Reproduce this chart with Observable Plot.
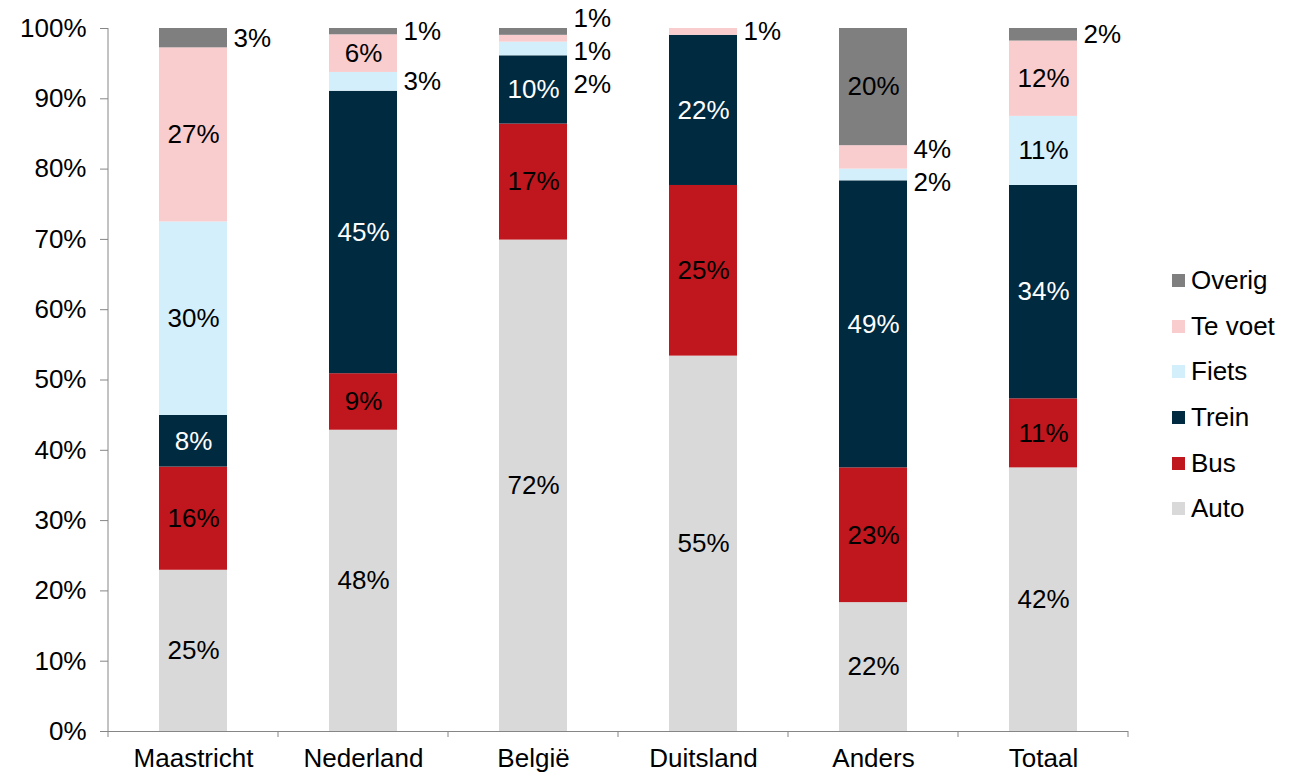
<!DOCTYPE html>
<html><head><meta charset="utf-8">
<script src="https://cdn.jsdelivr.net/npm/d3@7"></script>
<script src="https://cdn.jsdelivr.net/npm/@observablehq/plot@0.6"></script>
<style>
body{margin:0;background:#fff;font-family:Arial,"Liberation Sans",sans-serif;}
#wrap{position:relative;width:1306px;height:775px;}
#legend{position:absolute;left:1172px;top:258px;font-size:26px;color:#000;}
.row{height:45.6px;display:flex;align-items:center;}
.sw{width:13px;height:13px;margin-right:6px;flex:none;}
</style></head><body><div id="wrap"><div id="legend"></div></div>
<script>
const categories = ["Maastricht","Nederland","België","Duitsland","Anders","Totaal"];
const modes = ["Auto","Bus","Trein","Fiets","Te voet","Overig"];
const auto   = [25,48,72,55,22,42];
const bus    = [16, 9,17,25,23,11];
const trein  = [ 8,45,10,22,49,34];
const fiets  = [30, 3, 2, 0, 2,11];
const teVoet = [27, 6, 1, 1, 4,12];
const overig = [ 3, 1, 1, 0,20, 2];
const yTicks = [0,0.1,0.2,0.3,0.4,0.5,0.6,0.7,0.8,0.9,1];
const colors = ["#D9D9D9","#C0161D","#002A40","#D3EFFC","#F9CCCE","#7F7F7F"];

const W = 1306, H = 775, mL = 108, mR = 178, mT = 28, mB = 44;
const FS = 26;
const plotH = H - mT - mB, plotW = W - mL - mR;
const barW = (plotW / categories.length) * 0.4;
const axisGray = "#868686";

const series = [auto, bus, trein, fiets, teVoet, overig];
const rows = [];
categories.forEach((c, i) => {
  const total = d3.sum(series, s => s[i]);
  let cum = 0;
  modes.forEach((m, j) => {
    const v = series[j][i];
    if (!v) return;
    const f = v / total;
    rows.push({cat: c, mode: m, value: v, y1: cum, y2: cum + f, mid: cum + f / 2, outside: v < 5});
    cum += f;
  });
});

// spread outside labels so they don't overlap
const yPx = v => mT + (1 - v) * plotH;
const yInv = p => 1 - (p - mT) / plotH;
const gap = 33, topLimit = 18;
categories.forEach(c => {
  const labs = rows.filter(r => r.cat === c && r.outside).map(r => ({r, p: yPx(r.mid)})).sort((a, b) => a.p - b.p);
  if (!labs.length) return;
  let clusters = labs.map(l => ({items: [l], center: l.p}));
  let merged = true;
  while (merged) {
    merged = false;
    for (let k = 0; k < clusters.length - 1; k++) {
      const a = clusters[k], b = clusters[k + 1];
      const aBottom = a.center + (a.items.length - 1) * gap / 2;
      const bTop = b.center - (b.items.length - 1) * gap / 2;
      if (bTop - aBottom < gap) {
        const items = [...a.items, ...b.items];
        clusters.splice(k, 2, {items, center: d3.mean(items, d => d.p)});
        merged = true; break;
      }
    }
  }
  clusters.forEach(cl => cl.items.forEach((it, n) => { it.pos = cl.center + (n - (cl.items.length - 1) / 2) * gap; }));
  const minTop = labs[0].pos;
  if (minTop < topLimit) labs.forEach(l => l.pos += topLimit - minTop);
  labs.forEach(l => l.r.labelY = yInv(l.pos));
});

const pct = d => d.value + "%";
const chart = Plot.plot({
  width: W, height: H,
  marginLeft: mL, marginRight: mR, marginTop: mT, marginBottom: mB,
  style: {fontFamily: 'Arial, "Liberation Sans", sans-serif', fontSize: FS + "px", background: "white", color: "black", overflow: "visible"},
  x: {domain: categories, paddingInner: 0.6, paddingOuter: 0.3, label: null},
  y: {domain: [0, 1], label: null},
  color: {domain: modes, range: colors},
  marks: [
    Plot.barY(rows, {x: "cat", y1: "y1", y2: "y2", fill: "mode"}),
    Plot.text(rows.filter(r => !r.outside && r.mode !== "Trein"), {x: "cat", y: "mid", text: pct, fill: "black", fontSize: FS}),
    Plot.text(rows.filter(r => !r.outside && r.mode === "Trein"), {x: "cat", y: "mid", text: pct, fill: "white", fontSize: FS}),
    Plot.text(rows.filter(r => r.outside), {x: "cat", y: "labelY", text: pct, fill: "black", fontSize: FS, textAnchor: "start", dx: barW / 2 + 6}),
    Plot.axisY({ticks: yTicks, tickFormat: d3.format(".0%"), tickSize: 8, tickPadding: 14, fontSize: FS, stroke: axisGray, fill: "black", label: null}),
    Plot.axisX({tickSize: 0, tickPadding: 17, fontSize: FS, fill: "black", label: null}),
    Plot.ruleY([0], {stroke: axisGray})
  ]
});

// left axis line and category boundary ticks
const xs = chart.scale("x"), ys = chart.scale("y");
const svg = d3.select(chart.tagName.toLowerCase() === "svg" ? chart : chart.querySelector("svg"));
const centers = categories.map(c => xs.apply(c) + xs.bandwidth / 2);
const bounds = [centers[0] - xs.step / 2, ...centers.map(c => c + xs.step / 2)];
const g = svg.append("g").attr("stroke", axisGray).attr("stroke-width", 1);
g.append("line").attr("x1", bounds[0]).attr("x2", bounds[0]).attr("y1", ys.apply(0)).attr("y2", ys.apply(1));
bounds.forEach(b => g.append("line").attr("x1", b).attr("x2", b).attr("y1", ys.apply(0)).attr("y2", ys.apply(0) + 6));

document.getElementById("wrap").prepend(chart);

const legend = document.getElementById("legend");
modes.slice().reverse().forEach(m => {
  const row = document.createElement("div");
  row.className = "row";
  const sw = document.createElement("div");
  sw.className = "sw";
  sw.style.background = colors[modes.indexOf(m)];
  const t = document.createElement("span");
  t.textContent = m;
  row.append(sw, t);
  legend.append(row);
});
</script></body></html>
